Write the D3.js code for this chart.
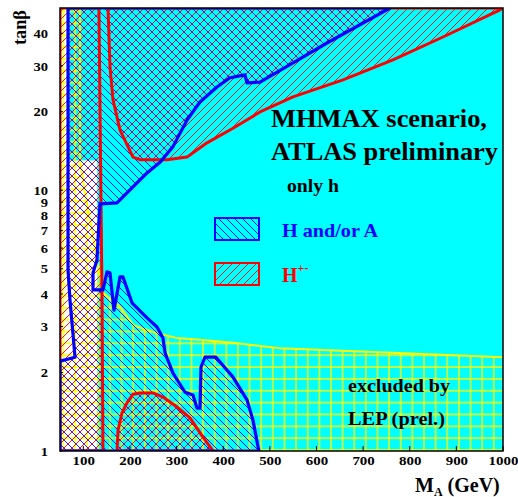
<!DOCTYPE html>
<html>
<head>
<meta charset="utf-8">
<script src="https://cdn.jsdelivr.net/npm/d3@7"></script>
<style>
  body { margin: 0; background: #fff; }
  svg text { font-family: "Liberation Serif", "Times New Roman", serif; font-weight: bold; }
</style>
</head>
<body>
<svg id="chart" width="518" height="497"></svg>
<script>
// tick labels
const xTicks = [100, 200, 300, 400, 500, 600, 700, 800, 900, 1000];
const yTicks = [1, 2, 3, 4, 5, 6, 7, 8, 9, 10, 20, 30, 40];

// regions, [M_A (GeV), tanb]
const whiteRegion = [[50,1],[50,50],[67,50],[67,13],[130,13],[130,1]];

const lepBoundary = [[50,50],[93,50],[93,13],[105,9.5],[119,7],[131,5.2],[140,4.4],[142,4.04],
  [179,3.57],[207,3.04],[249,2.86],[301,2.71],[350,2.67],[421,2.60],[522,2.48],[1000,2.29]];
const lepCorners = [[1000,1],[50,1]];

const hA = [[67.2,50],[757.7,50],[622.6,36.7],[549.7,30.8],[478.9,26.0],[451.0,25.8],[446.7,27.7],
  [414.6,27.0],[386.7,24.9],[350.2,21.8],[322.4,18.6],[292.3,14.7],[264.5,12.8],[236.6,11.65],
  [206.5,10.3],[172.2,8.94],[135.8,8.86],[131.5,6.45],[129.3,5.40],[120.8,4.82],[120.8,4.15],
  [142.2,4.15],[150.8,4.86],[157.2,4.82],[165.8,3.47],[178.7,4.65],[185.1,4.65],[204.4,3.70],
  [236.6,3.24],[258.0,2.99],[270.9,2.71],[275.2,2.38],[292.3,1.99],[318.1,1.68],[335.2,1.64],
  [343.8,1.46],[350.2,1.46],[352.4,2.10],[361.0,2.29],[384.5,2.29],[421.0,1.92],[451.0,1.57],
  [463.9,1.31],[474.6,1.04],[476.8,1],[50,1],[50,2.21],[82.2,2.29],[71.4,3.80],[67.2,4.95]];

const hpLeft = [[50,1],[50,50],[133.6,50],[137.9,9.0],[140.1,4.0],[142.2,1]];
const hpTop = [[152.9,50],[157.2,29.7],[163.7,22.2],[178.7,17.0],[206.5,13.4],[221.6,13.1],
  [279.5,13.1],[322.4,13.4],[365.2,15.2],[421.0,17.3],[478.9,19.96],[549.7,22.8],[656.9,26.5],
  [764.1,31.6],[871.3,38.7],[993.6,49.2],[1000,50]];
const hpBottom = [[172.2,1],[174.4,1.20],[183.0,1.40],[193.7,1.53],[206.5,1.65],[221.6,1.67],
  [249.4,1.67],[270.9,1.61],[300.9,1.475],[328.8,1.34],[356.7,1.13],[378.1,1]];

const CYAN = "#00ffff", BLUE = "#0000ff", RED = "#ff0000", YEL = "#ffff00";
const FONT = '"Liberation Serif", "Times New Roman", serif';
const M = { top: 8, right: 15, bottom: 46, left: 60 };
const W = 518, H = 497;

const svg = d3.select("#chart");
const x = d3.scaleLinear().domain([50, 1000]).range([M.left, W - M.right]);
const y = d3.scaleLog().domain([1, 50]).range([H - M.bottom, M.top]);
const line = d3.line().x(d => x(d[0])).y(d => y(d[1]));

// stretch text horizontally around its anchor (reference font is wide)
function stretch(sel, k) {
  sel.each(function () {
    const t = d3.select(this);
    const tx = +t.attr("x") || 0;
    t.attr("transform", `translate(${tx * (1 - k)},0) scale(${k},1)`);
  });
}

const defs = svg.append("defs");
defs.append("clipPath").attr("id", "plot").append("rect")
  .attr("x", x(50)).attr("y", y(50))
  .attr("width", x(1000) - x(50)).attr("height", y(1) - y(50));

const hb = defs.append("pattern").attr("id", "hatchBlue")
  .attr("patternUnits", "userSpaceOnUse").attr("width", 8).attr("height", 8);
hb.append("path").attr("d", "M0,0L8,8M-4,4L4,12M4,-4L12,4")
  .attr("stroke", BLUE).attr("stroke-width", 0.9);

const hr = defs.append("pattern").attr("id", "hatchRed")
  .attr("patternUnits", "userSpaceOnUse").attr("width", 8).attr("height", 8);
hr.append("path").attr("d", "M0,8L8,0M-4,4L4,-4M4,12L12,4")
  .attr("stroke", RED).attr("stroke-width", 0.9);

const gw = 11.63, gh = 11.85;
const grid = defs.append("pattern").attr("id", "lepGrid")
  .attr("patternUnits", "userSpaceOnUse").attr("width", gw).attr("height", gh)
  .attr("x", 110 - gw / 2).attr("y", 450 - gh / 2);
grid.append("path").attr("d", `M${gw/2},0V${gh}M0,${gh/2}H${gw}`)
  .attr("stroke", YEL).attr("stroke-width", 1.4);

const g = svg.append("g").attr("clip-path", "url(#plot)");

// only h (allowed) background
g.append("rect").attr("x", x(50)).attr("y", y(50))
  .attr("width", x(1000) - x(50)).attr("height", y(1) - y(50)).attr("fill", CYAN);
g.append("path").attr("d", line(whiteRegion) + "Z").attr("fill", "#fff");

// LEP exclusion
g.append("path").attr("d", line(lepBoundary.concat(lepCorners)) + "Z").attr("fill", "url(#lepGrid)");
g.append("path").attr("d", line(lepBoundary)).attr("fill", "none")
  .attr("stroke", YEL).attr("stroke-width", 2);

// H+- regions
[hpLeft, hpTop, hpBottom].forEach(r => {
  g.append("path").attr("d", line(r) + "Z").attr("fill", "url(#hatchRed)");
});
// H and/or A
g.append("path").attr("d", line(hA) + "Z").attr("fill", "url(#hatchBlue)");

[hpLeft, hpTop, hpBottom].forEach(r => {
  g.append("path").attr("d", line(r) + "Z").attr("fill", "none")
    .attr("stroke", RED).attr("stroke-width", 3).attr("stroke-linejoin", "round");
});
g.append("path").attr("d", line(hA) + "Z").attr("fill", "none")
  .attr("stroke", BLUE).attr("stroke-width", 3.2).attr("stroke-linejoin", "round");

// frame
svg.append("rect").attr("x", x(50)).attr("y", y(50))
  .attr("width", x(1000) - x(50)).attr("height", y(1) - y(50))
  .attr("fill", "none").attr("stroke", "#000").attr("stroke-width", 1.5);

// inner ticks
svg.append("g").selectAll("line").data(yTicks).enter().append("line")
  .attr("x1", x(50)).attr("x2", x(50) + 3)
  .attr("y1", d => y(d)).attr("y2", d => y(d))
  .attr("stroke", "#000").attr("stroke-width", 1);
svg.append("g").selectAll("line").data(xTicks).enter().append("line")
  .attr("x1", d => x(d)).attr("x2", d => x(d))
  .attr("y1", y(1)).attr("y2", y(1) - 5)
  .attr("stroke", "#000").attr("stroke-width", 1);

// axes
svg.append("g").attr("transform", `translate(0,${y(1)})`)
  .call(d3.axisBottom(x).tickValues(xTicks).tickFormat(d3.format("d")).tickSize(0).tickPadding(5))
  .call(ax => ax.select(".domain").remove())
  .call(ax => ax.selectAll("text").style("font-family", FONT).style("font-weight", "bold")
    .style("font-size", "13px").attr("fill", "#000").call(stretch, 1.15));

svg.append("g").attr("transform", `translate(${x(50)},0)`)
  .call(d3.axisLeft(y).tickValues(yTicks).tickFormat(d3.format("d")).tickSize(0).tickPadding(12))
  .call(ax => ax.select(".domain").remove())
  .call(ax => ax.selectAll("text").style("font-family", FONT).style("font-weight", "bold")
    .style("font-size", "13px").attr("fill", "#000").call(stretch, 1.12));

// axis titles
svg.append("text").attr("transform", "translate(26,27.5) rotate(-90)")
  .attr("text-anchor", "middle").style("font-size", "18px")
  .attr("textLength", 35).attr("lengthAdjust", "spacingAndGlyphs").text("tanβ");

const xt = svg.append("text").attr("x", 415).attr("y", 492).style("font-size", "20px");
xt.append("tspan").text("M");
xt.append("tspan").attr("dy", 4).style("font-size", "12px").text("A");
xt.append("tspan").attr("dy", -4).text(" (GeV)");

// annotations
function label(txt, x0, yb, size, len, color) {
  return svg.append("text").attr("x", x0).attr("y", yb).style("font-size", size + "px")
    .attr("fill", color || "#000")
    .attr("textLength", len).attr("lengthAdjust", "spacingAndGlyphs").text(txt);
}
label("MHMAX scenario,", 271, 127, 25, 216);
label("ATLAS preliminary", 271, 160, 25, 227);
label("only h", 287, 192, 18, 52);
label("H and/or A", 282, 237, 19, 96, BLUE);
label("excluded by", 348, 392, 19, 102);
label("LEP (prel.)", 348, 425, 19, 97);

const hp = svg.append("text").attr("x", 282).attr("y", 282).style("font-size", "20px").attr("fill", RED);
hp.append("tspan").text("H");
hp.append("tspan").attr("dy", -10).style("font-size", "12px").text("+-");

// legend boxes
[[218, "url(#hatchBlue)", BLUE], [263, "url(#hatchRed)", RED]].forEach(([yy, fill, col]) => {
  svg.append("rect").attr("x", 215).attr("y", yy).attr("width", 44).attr("height", 22).attr("fill", CYAN);
  svg.append("rect").attr("x", 215).attr("y", yy).attr("width", 44).attr("height", 22)
    .attr("fill", fill).attr("stroke", col).attr("stroke-width", 2);
});
</script>
</body>
</html>
